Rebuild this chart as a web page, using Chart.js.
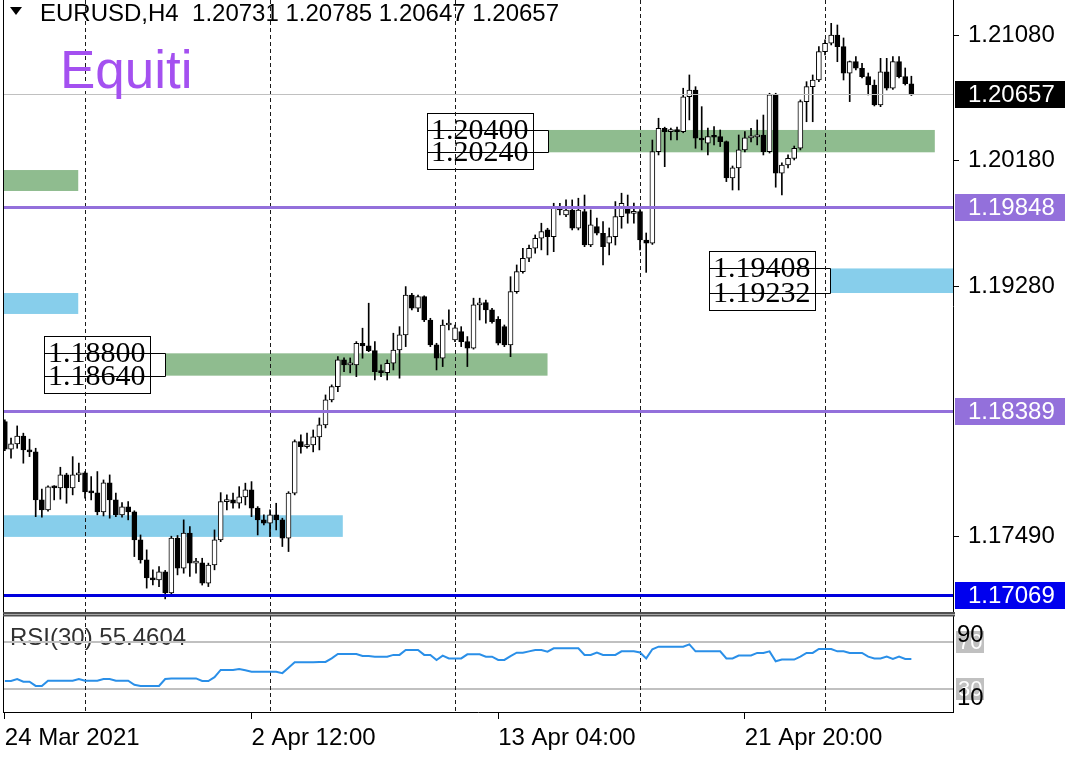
<!DOCTYPE html>
<html><head><meta charset="utf-8">
<script src="https://cdn.jsdelivr.net/npm/chart.js@4.4.1/dist/chart.umd.min.js"></script>
<style>
html,body{margin:0;padding:0;background:#fff;}
#wrap{position:relative;width:1079px;height:759px;overflow:hidden;background:#fff;}
canvas{position:absolute;left:0;}
#c1{top:0;width:1079px;height:614px;}
#c2{top:614px;width:1079px;height:145px;}
.t{position:absolute;white-space:pre;font-family:"Liberation Sans",Arial,sans-serif;}
#tri{position:absolute;left:10px;top:7px;width:0;height:0;border-left:6px solid transparent;border-right:6px solid transparent;border-top:8px solid #000;}
#hdr{left:40px;top:1px;font-size:24px;line-height:24px;color:#000;}
#brand{left:60px;top:43px;font-size:53px;line-height:53px;color:#a450f0;}
</style></head><body>
<div id="wrap">
<canvas id="c1" width="1079" height="614"></canvas>
<canvas id="c2" width="1079" height="145"></canvas>
<div id="tri"></div>
<div class="t" id="hdr">EURUSD,H4  1.20731 1.20785 1.20647 1.20657</div>
<div class="t" id="brand">Equiti</div>
</div>
<script>
// ---------- DATA (EURUSD H4, candles 0..147, from 24 Mar 2021 20:00) ----------
const open = [
1.18311,1.18113,1.18151,1.18208,1.18108,1.18094,1.17750,1.17678,1.17843,1.17836,
1.17929,1.17836,1.17929,1.17944,1.17807,1.17800,1.17664,1.17872,1.17750,1.17643,
1.17700,1.17664,1.17464,1.17320,1.17191,1.17177,1.17234,1.17084,1.17476,1.17261,
1.17512,1.17297,1.17299,1.17153,1.17284,1.17464,1.17738,1.17750,1.17726,1.17772,
1.17822,1.17691,1.17607,1.17583,1.17643,1.17607,1.17476,1.17798,1.18168,1.18132,
1.18144,1.18201,1.18287,1.18466,1.18561,1.18753,1.18717,1.18717,1.18872,1.18853,
1.18819,1.18669,1.18662,1.18729,1.18824,1.18932,1.19218,1.19123,1.19206,1.19039,
1.18860,1.18765,1.19003,1.18896,1.18955,1.18884,1.18837,1.19147,1.19163,1.19111,
1.19044,1.18991,1.18860,1.19242,1.19385,1.19481,1.19553,1.19624,1.19684,1.19636,
1.19839,1.19791,1.19827,1.19696,1.19815,1.19576,1.19708,1.19660,1.19589,1.19636,
1.19779,1.19851,1.19803,1.19815,1.19612,1.19589,1.20245,1.20412,1.20388,1.20392,
1.20388,1.20638,1.20686,1.20341,1.20305,1.20352,1.20352,1.20316,1.20056,1.20128,
1.20257,1.20343,1.20350,1.20364,1.20245,1.20651,1.20090,1.20149,1.20197,1.20269,
1.20603,1.20710,1.20758,1.20961,1.21021,1.21080,1.20997,1.20806,1.20889,1.20842,
1.20782,1.20722,1.20579,1.20817,1.20699,1.20889,1.20782,1.20731];
const high = [
1.18323,1.18192,1.18280,1.18228,1.18185,1.18120,1.17827,1.17850,1.17852,1.17984,
1.17941,1.18060,1.18013,1.17953,1.17917,1.17953,1.17893,1.17929,1.17798,1.17731,
1.17738,1.17672,1.17499,1.17392,1.17249,1.17272,1.17245,1.17490,1.17495,1.17607,
1.17559,1.17332,1.17332,1.17297,1.17535,1.17802,1.17786,1.17798,1.17845,1.17870,
1.17881,1.17702,1.17643,1.17678,1.17726,1.17619,1.17809,1.18180,1.18216,1.18228,
1.18251,1.18337,1.18502,1.18574,1.18776,1.18767,1.18767,1.18884,1.18980,1.19159,
1.18884,1.18717,1.18753,1.18944,1.18991,1.19278,1.19230,1.19218,1.19212,1.19051,
1.18872,1.19039,1.19111,1.19003,1.18991,1.18920,1.19195,1.19195,1.19182,1.19123,
1.19063,1.19003,1.19349,1.19433,1.19553,1.19576,1.19648,1.19732,1.19696,1.19875,
1.19875,1.19899,1.19899,1.19911,1.19934,1.19827,1.19768,1.19743,1.19698,1.19887,
1.19947,1.19934,1.19877,1.19830,1.19662,1.20328,1.20484,1.20420,1.20414,1.20421,
1.20699,1.20794,1.20710,1.20567,1.20414,1.20424,1.20400,1.20321,1.20142,1.20364,
1.20388,1.20412,1.20472,1.20507,1.20663,1.20663,1.20164,1.20221,1.20285,1.20615,
1.20746,1.20794,1.20997,1.21045,1.21164,1.21152,1.21059,1.20894,1.20925,1.20878,
1.20808,1.20758,1.20913,1.20913,1.20925,1.20925,1.20844,1.20785];
const low = [
1.18103,1.18049,1.18120,1.18013,1.18060,1.17630,1.17626,1.17670,1.17750,1.17755,
1.17726,1.17786,1.17881,1.17762,1.17750,1.17643,1.17635,1.17619,1.17630,1.17626,
1.17607,1.17344,1.17297,1.17118,1.17141,1.17129,1.17041,1.17060,1.17213,1.17225,
1.17201,1.17225,1.17140,1.17129,1.17249,1.17451,1.17678,1.17691,1.17691,1.17714,
1.17630,1.17499,1.17571,1.17487,1.17535,1.17416,1.17380,1.17786,1.18084,1.18120,
1.18094,1.18108,1.18266,1.18452,1.18526,1.18669,1.18660,1.18633,1.18765,1.18812,
1.18609,1.18633,1.18609,1.18681,1.18622,1.18848,1.19111,1.19099,1.19027,1.18848,
1.18681,1.18705,1.18967,1.18884,1.18848,1.18705,1.18830,1.19039,1.19016,1.19016,
1.18860,1.18848,1.18776,1.19230,1.19374,1.19457,1.19517,1.19541,1.19505,1.19528,
1.19791,1.19779,1.19684,1.19684,1.19564,1.19564,1.19648,1.19433,1.19505,1.19576,
1.19696,1.19732,1.19732,1.19541,1.19380,1.19580,1.20221,1.20137,1.20328,1.20328,
1.20380,1.20472,1.20269,1.20257,1.20221,1.20293,1.20281,1.20030,1.19970,1.19970,
1.20242,1.20314,1.20293,1.20221,1.20235,1.19990,1.19934,1.20128,1.20185,1.20257,
1.20459,1.20459,1.20746,1.20937,1.21009,1.20889,1.20758,1.20603,1.20830,1.20772,
1.20651,1.20572,1.20567,1.20686,1.20690,1.20772,1.20722,1.20647];
const close = [
1.18113,1.18151,1.18208,1.18108,1.18094,1.17750,1.17678,1.17843,1.17836,1.17929,
1.17836,1.17929,1.17944,1.17807,1.17800,1.17664,1.17872,1.17750,1.17643,1.17700,
1.17664,1.17464,1.17320,1.17191,1.17177,1.17234,1.17084,1.17476,1.17261,1.17512,
1.17297,1.17299,1.17153,1.17284,1.17464,1.17738,1.17750,1.17726,1.17772,1.17822,
1.17691,1.17607,1.17583,1.17643,1.17607,1.17476,1.17798,1.18168,1.18132,1.18144,
1.18201,1.18287,1.18466,1.18561,1.18753,1.18717,1.18717,1.18872,1.18853,1.18819,
1.18669,1.18662,1.18729,1.18824,1.18932,1.19218,1.19123,1.19206,1.19039,1.18860,
1.18765,1.19003,1.19003,1.18982,1.18884,1.18837,1.19147,1.19154,1.19111,1.19027,
1.18872,1.18860,1.19242,1.19385,1.19481,1.19553,1.19624,1.19672,1.19636,1.19839,
1.19827,1.19827,1.19696,1.19827,1.19576,1.19720,1.19660,1.19564,1.19636,1.19779,
1.19875,1.19803,1.19815,1.19612,1.19589,1.20245,1.20412,1.20388,1.20392,1.20388,
1.20638,1.20686,1.20341,1.20328,1.20352,1.20348,1.20316,1.20056,1.20128,1.20257,
1.20343,1.20350,1.20364,1.20245,1.20651,1.20090,1.20149,1.20197,1.20269,1.20603,
1.20710,1.20758,1.20961,1.21021,1.21080,1.20997,1.20806,1.20889,1.20842,1.20782,
1.20722,1.20579,1.20817,1.20699,1.20889,1.20782,1.20731,1.20657];
const rsi = [
36.8,36.8,38.5,36.2,36.2,32.6,32.6,37.1,37.1,37.1,
37.1,37.1,38.5,37,37,37,38.5,38.5,37,37,
37,33.5,32.6,32.6,32.6,32.6,38.5,39,39,39,
39,39,36.8,36.8,40,46.2,46.2,46.2,47,46,
44.7,44.7,44.7,44.7,44.7,43.5,48,52.7,52.7,52.7,
52.7,53,53,56,59.8,59.8,59.8,59.8,58,58,
57.5,57.5,57.5,59,59,63.2,63.2,63.2,59,59,
54.7,58.4,56,56,56,59.5,59.5,59.5,57.5,57.5,
54.7,54.7,58,60.9,60.9,62,63.2,63.2,61.8,64.6,
64.6,64.6,64.6,64.6,59,59,61,59,59,59,
62,62,62,61,56,63.8,66,66,66,66,
66,68,62,62,62,62,62,56,56,58.5,
58.5,58.5,60.7,60.7,62,53.6,55,55,55,57.5,
60.7,60.7,64,64,64,62,62,60.7,60.7,60.7,
57.5,56,56,57.5,55.5,57.5,55.5,55.46];

// axis / annotation values
const priceTicks = [1.21080, 1.20180, 1.19280, 1.17490];
const labelIdx = [0, 40, 80, 120];
const tickLabels = ['24 Mar 2021', '2 Apr 12:00', '13 Apr 04:00', '21 Apr 20:00'];
const sepIdx = [13, 43, 73, 103, 133];
const bidLevel = 1.20657;
const purpleLevels = [1.19848, 1.18389];
const lowLevel = 1.17069;
const zoneFrom = [88.1, 26.0, 133.8, -1, -1, -1];
const zoneTo = [150.8, 88.0, 154, 11.9, 11.9, 54.8];
const zoneHigh = [1.20400, 1.18800, 1.19408, 1.20113, 1.19232, 1.17640];
const zoneLow = [1.20240, 1.18640, 1.19232, 1.19963, 1.19082, 1.17485];
const zoneKind = ['g', 'g', 'b', 'g', 'b', 'b'];
const zoneLabeled = [true, true, true, false, false, false];
const rsiLevels = [70, 30];
const rsiBounds = [90, 10];
const rsiName = 'RSI(30) 55.4604';

// ---------- RENDERING ----------
const FONT = '"Liberation Sans", Arial, sans-serif';
const SERIF = '"Liberation Serif", "Times New Roman", serif';
const xMin = -0.3, xMax = 153.75;
function noPad(s) { s.paddingTop = 0; s.paddingBottom = 0; s.paddingLeft = 0; s.paddingRight = 0; }

const mainDeco = {
  id: 'mainDeco',
  beforeDatasetsDraw(chart) {
    const {ctx, chartArea: a, scales: {x, y}} = chart;
    ctx.save();
    ctx.beginPath(); ctx.rect(a.left, a.top, a.right - a.left, a.bottom - a.top); ctx.clip();
    for (let k = 0; k < zoneFrom.length; k++) {
      const x1 = Math.max(a.left, x.getPixelForValue(zoneFrom[k]));
      const x2 = Math.min(a.right, x.getPixelForValue(zoneTo[k]));
      const y1 = y.getPixelForValue(zoneHigh[k]), y2 = y.getPixelForValue(zoneLow[k]);
      ctx.fillStyle = zoneKind[k] === 'g' ? '#8fbc8f' : '#87ceeb';
      ctx.fillRect(x1, y1, x2 - x1, y2 - y1);
      if (zoneLabeled[k]) {
        const bx2 = Math.round(x1 - 15), bx1 = bx2 - 106;
        const by1 = Math.round(y1 - 17), by2 = Math.round(y2 + 17);
        ctx.fillStyle = '#fff'; ctx.fillRect(bx1, by1, bx2 - bx1, by2 - by1);
        ctx.strokeStyle = '#000'; ctx.lineWidth = 1;
        ctx.strokeRect(bx1 + 0.5, by1 + 0.5, bx2 - bx1, by2 - by1);
        ctx.fillStyle = '#000'; ctx.font = '30px ' + SERIF;
        ctx.textBaseline = 'middle'; ctx.textAlign = 'left';
        ctx.fillText(zoneHigh[k].toFixed(5), bx1 + 4, y1 + 1);
        ctx.fillText(zoneLow[k].toFixed(5), bx1 + 4, y2 + 1);
        const ty1 = Math.round(y1) + 0.5, ty2 = Math.round(y2) + 0.5, vx = Math.round(x1) + 0.5;
        ctx.beginPath();
        ctx.moveTo(bx1, ty1); ctx.lineTo(vx, ty1);
        ctx.moveTo(bx1, ty2); ctx.lineTo(vx, ty2);
        ctx.moveTo(vx, ty1); ctx.lineTo(vx, ty2);
        ctx.stroke();
      }
    }
    ctx.strokeStyle = '#1a1a1a'; ctx.lineWidth = 1; ctx.setLineDash([4, 3]);
    for (const s of sepIdx) {
      const px = Math.round(x.getPixelForValue(s)) + 0.5;
      ctx.beginPath(); ctx.moveTo(px, a.top); ctx.lineTo(px, a.bottom); ctx.stroke();
    }
    ctx.setLineDash([]);
    ctx.restore();
  },
  afterDatasetsDraw(chart) {
    const {ctx, chartArea: a, scales: {y}} = chart;
    ctx.save();
    const line = (p, color, w) => {
      const py = Math.round(y.getPixelForValue(p)) + (w % 2 ? 0.5 : 0);
      ctx.strokeStyle = color; ctx.lineWidth = w;
      ctx.beginPath(); ctx.moveTo(a.left, py); ctx.lineTo(a.right, py); ctx.stroke();
    };
    line(bidLevel, '#c0c0c0', 1);
    purpleLevels.forEach(p => line(p, '#9370db', 3));
    line(lowLevel, '#0000dd', 3);
    ctx.restore();
  },
  afterDraw(chart) {
    const {ctx, chartArea: a, scales: {y}} = chart;
    ctx.save();
    ctx.strokeStyle = '#000'; ctx.lineWidth = 1;
    ctx.beginPath(); ctx.moveTo(a.left + 0.5, 0); ctx.lineTo(a.left + 0.5, a.bottom); ctx.stroke();
    ctx.strokeStyle = '#505050'; ctx.lineWidth = 2;
    ctx.beginPath(); ctx.moveTo(a.left, a.bottom + 1); ctx.lineTo(a.right + 2, a.bottom + 1); ctx.stroke();
    const tag = (p, bg) => {
      const py = Math.round(y.getPixelForValue(p));
      ctx.fillStyle = bg; ctx.fillRect(a.right + 2, py - 13, 110, 27);
      ctx.fillStyle = '#fff'; ctx.font = '24px ' + FONT;
      ctx.textBaseline = 'middle'; ctx.textAlign = 'left';
      ctx.fillText(p.toFixed(5), a.right + 15, py + 1);
    };
    tag(bidLevel, '#000');
    purpleLevels.forEach(p => tag(p, '#9370db'));
    tag(lowLevel, '#0000ee');
    ctx.restore();
  }
};

new Chart(document.getElementById('c1'), {
  type: 'bar',
  data: {
    datasets: [
      {
        label: 'body',
        data: open.map((o, i) => ({x: i, y: [o, close[i]]})),
        backgroundColor: open.map((o, i) => close[i] >= o ? '#ffffff' : '#000000'),
        borderColor: '#000', borderWidth: 1, borderSkipped: false,
        barThickness: 5, minBarLength: 2, grouped: false, order: 0
      },
      {
        label: 'wick',
        data: low.map((l, i) => ({x: i, y: [l, high[i]]})),
        backgroundColor: '#000', borderWidth: 0,
        barThickness: 1, grouped: false, order: 1
      }
    ]
  },
  options: {
    responsive: false, animation: false, devicePixelRatio: 1, events: [],
    layout: {autoPadding: false, padding: {left: 3, top: 0, right: 0, bottom: 2}},
    plugins: {legend: {display: false}, tooltip: {enabled: false}},
    scales: {
      x: {type: 'linear', min: xMin, max: xMax, offset: false, display: false},
      y: {
        position: 'right', min: 1.16947, max: 1.21331,
        afterFit(s) { s.width = 126; noPad(s); },
        afterBuildTicks(s) { s.ticks = priceTicks.map(v => ({value: v})); },
        ticks: {callback: v => Number(v).toFixed(5), font: {family: FONT, size: 24}, color: '#000', padding: 9, autoSkip: false},
        grid: {drawOnChartArea: false, drawTicks: true, tickLength: 6, color: '#000'},
        border: {display: true, color: '#000', width: 1}
      }
    }
  },
  plugins: [mainDeco]
});

const rsiDeco = {
  id: 'rsiDeco',
  beforeDatasetsDraw(chart) {
    const {ctx, chartArea: a, scales: {x, y}} = chart;
    ctx.save();
    ctx.beginPath(); ctx.rect(a.left, a.top, a.right - a.left, a.bottom - a.top); ctx.clip();
    ctx.fillStyle = '#303030'; ctx.font = '24px ' + FONT;
    ctx.textBaseline = 'middle'; ctx.textAlign = 'left';
    ctx.fillText(rsiName, 10, a.top + 22);
    ctx.strokeStyle = '#c0c0c0'; ctx.lineWidth = 2;
    rsiLevels.forEach(v => {
      const py = Math.round(y.getPixelForValue(v));
      ctx.beginPath(); ctx.moveTo(a.left, py); ctx.lineTo(a.right, py); ctx.stroke();
    });
    ctx.strokeStyle = '#1a1a1a'; ctx.lineWidth = 1; ctx.setLineDash([4, 3]);
    for (const s of sepIdx) {
      const px = Math.round(x.getPixelForValue(s)) + 0.5;
      ctx.beginPath(); ctx.moveTo(px, a.top); ctx.lineTo(px, a.bottom); ctx.stroke();
    }
    ctx.setLineDash([]);
    ctx.restore();
  },
  afterDraw(chart) {
    const {ctx, chartArea: a, scales: {y}} = chart;
    ctx.save();
    ctx.strokeStyle = '#000'; ctx.lineWidth = 1;
    ctx.beginPath(); ctx.moveTo(a.left + 0.5, 0); ctx.lineTo(a.left + 0.5, a.bottom); ctx.stroke();
    ctx.strokeStyle = '#505050'; ctx.lineWidth = 2;
    ctx.beginPath(); ctx.moveTo(a.left, a.top - 0.5); ctx.lineTo(a.right + 2, a.top - 0.5); ctx.stroke();
    ctx.textAlign = 'left'; ctx.textBaseline = 'middle';
    rsiLevels.forEach(v => {
      const py = Math.round(y.getPixelForValue(v));
      ctx.fillStyle = '#c0c0c0'; ctx.fillRect(a.right + 3, py - 11, 28, 22);
      ctx.fillStyle = '#fff'; ctx.font = '22px ' + FONT;
      ctx.fillText(String(v), a.right + 5, py + 1);
    });
    ctx.fillStyle = '#000'; ctx.font = '24px ' + FONT;
    ctx.fillText(String(rsiBounds[0]), a.right + 4, y.getPixelForValue(rsiBounds[0]) + 17);
    ctx.fillText(String(rsiBounds[1]), a.right + 4, y.getPixelForValue(rsiBounds[1]) - 14);
    ctx.restore();
  }
};

new Chart(document.getElementById('c2'), {
  type: 'line',
  data: {
    datasets: [{
      label: 'RSI(30)',
      data: rsi.map((v, i) => ({x: i, y: v})),
      borderColor: '#2a8fe8', borderWidth: 2, pointRadius: 0, tension: 0, fill: false
    }]
  },
  options: {
    responsive: false, animation: false, devicePixelRatio: 1, events: [],
    layout: {autoPadding: false, padding: {left: 3, top: 2, right: 0, bottom: 0}},
    plugins: {legend: {display: false}, tooltip: {enabled: false}},
    scales: {
      x: {
        type: 'linear', min: xMin, max: xMax, offset: false,
        afterFit(s) { s.height = 47; noPad(s); },
        afterBuildTicks(s) { s.ticks = labelIdx.map(v => ({value: v})); },
        ticks: {
          callback: v => { const k = labelIdx.indexOf(v); return k >= 0 ? tickLabels[k] : ''; },
          autoSkip: false, maxRotation: 0, minRotation: 0, align: 'start',
          font: {family: FONT, size: 24}, color: '#000', padding: 5
        },
        grid: {drawOnChartArea: false, drawTicks: true, tickLength: 7, color: '#000'},
        border: {display: true, color: '#000', width: 1}
      },
      y: {
        position: 'right', min: 10.4, max: 92.1,
        afterFit(s) { s.width = 126; noPad(s); },
        ticks: {display: false},
        grid: {display: false},
        border: {display: true, color: '#000', width: 1}
      }
    }
  },
  plugins: [rsiDeco]
});
</script>
</body></html>
